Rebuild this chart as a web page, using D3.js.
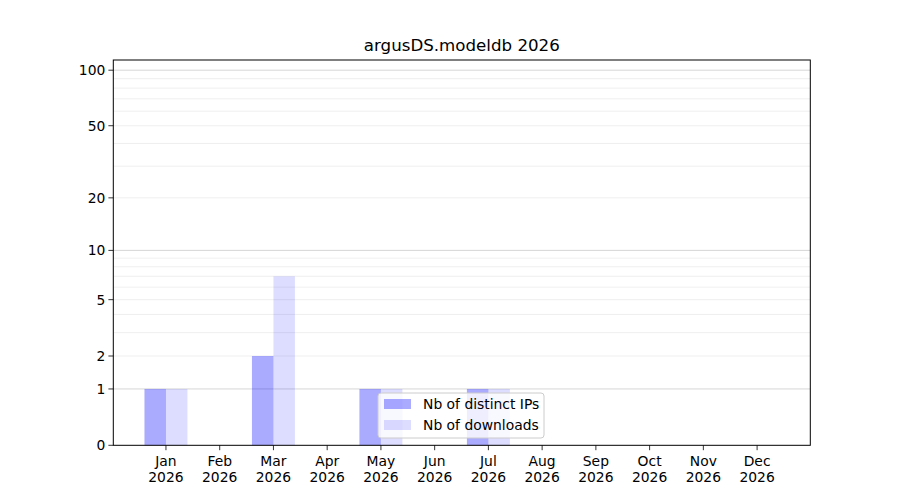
<!DOCTYPE html>
<html>
<head>
<meta charset="utf-8">
<script src="https://cdn.jsdelivr.net/npm/d3@7"></script>
<style>
  body { margin: 0; background: #fff; }
  text { font-family: "DejaVu Sans", sans-serif; fill: #000; }
</style>
</head>
<body>
<svg id="mainsvg" width="900" height="500"></svg>
<script>
let months = ["Jan", "Feb", "Mar", "Apr", "May", "Jun", "Jul", "Aug", "Sep", "Oct", "Nov", "Dec"];
let yearLabel = "2026";
let distinctIPs = [1, 0, 2, 0, 1, 0, 1, 0, 0, 0, 0, 0];
let downloads = [1, 0, 7, 0, 1, 0, 1, 0, 0, 0, 0, 0];
let majorTicks = [0, 1, 2, 5, 10, 20, 50, 100];
let gridMajor = [1, 10, 100];
let gridMinor = [2, 3, 4, 5, 6, 7, 8, 9, 20, 30, 40, 50, 60, 70, 80, 90];
let seriesNames = ["Nb of distinct IPs", "Nb of downloads"];
let chartTitle = "argusDS.modeldb 2026";

let svg = d3.select("#mainsvg");
let axLeft = 113.3, axRight = 810.3, axTop = 60, axBottom = 445.3;
let fs = "13.89px";

let x = d3.scaleLinear().domain([-0.98, 11.99]).range([axLeft, axRight]);
// log10(1 + v) scale
let y = d3.scaleSymlog().constant(1).domain([0, 113.5]).range([axBottom, axTop]);

// grid
let grid = svg.append("g");
grid.selectAll(".minor").data(gridMinor).enter().append("line")
    .attr("x1", axLeft).attr("x2", axRight)
    .attr("y1", d => y(d)).attr("y2", d => y(d))
    .attr("stroke", "#ebebeb").attr("stroke-width", 0.8);
grid.selectAll(".major").data(gridMajor).enter().append("line")
    .attr("x1", axLeft).attr("x2", axRight)
    .attr("y1", d => y(d)).attr("y2", d => y(d))
    .attr("stroke", "#cccccc").attr("stroke-width", 0.8);

// bars
let bw = 0.4;
svg.append("g").selectAll("rect").data(distinctIPs).enter().append("rect")
    .attr("x", (d, i) => x(i - bw)).attr("width", (d, i) => x(i) - x(i - bw))
    .attr("y", d => y(d)).attr("height", d => y(0) - y(d))
    .attr("fill", "#0000ff").attr("fill-opacity", 0.333);
svg.append("g").selectAll("rect").data(downloads).enter().append("rect")
    .attr("x", (d, i) => x(i)).attr("width", (d, i) => x(i + bw) - x(i))
    .attr("y", d => y(d)).attr("height", d => y(0) - y(d))
    .attr("fill", "#0000ff").attr("fill-opacity", 0.133);

// frame
svg.append("rect").attr("x", axLeft).attr("y", axTop)
    .attr("width", axRight - axLeft).attr("height", axBottom - axTop)
    .attr("fill", "none").attr("stroke", "#000").attr("stroke-width", 1);

// y axis
let yAxis = svg.append("g");
yAxis.selectAll("line").data(majorTicks).enter().append("line")
    .attr("x1", axLeft - 4.9).attr("x2", axLeft)
    .attr("y1", d => y(d)).attr("y2", d => y(d))
    .attr("stroke", "#000").attr("stroke-width", 0.8);
yAxis.selectAll("text").data(majorTicks).enter().append("text")
    .attr("x", axLeft - 8).attr("y", d => y(d)).attr("dy", "0.35em")
    .attr("text-anchor", "end").attr("font-size", fs)
    .text(d => d);

// x axis
let xAxis = svg.append("g");
xAxis.selectAll("line").data(months).enter().append("line")
    .attr("x1", (d, i) => x(i)).attr("x2", (d, i) => x(i))
    .attr("y1", axBottom).attr("y2", axBottom + 4.9)
    .attr("stroke", "#000").attr("stroke-width", 0.8);
let xl = xAxis.selectAll("text").data(months).enter().append("text")
    .attr("text-anchor", "middle").attr("font-size", fs);
xl.append("tspan").attr("x", (d, i) => x(i)).attr("y", axBottom + 21).text(d => d);
xl.append("tspan").attr("x", (d, i) => x(i)).attr("y", axBottom + 37).text(yearLabel);

// title
svg.append("text").attr("x", (axLeft + axRight) / 2).attr("y", 51)
    .attr("text-anchor", "middle").attr("font-size", "16.67px").text(chartTitle);

// legend
let lg = svg.append("g").attr("transform", "translate(378,393)");
lg.append("rect").attr("width", 166).attr("height", 45).attr("rx", 3)
    .attr("fill", "#fff").attr("fill-opacity", 0.8)
    .attr("stroke", "#cccccc").attr("stroke-width", 1);
let opac = [0.333, 0.133];
seriesNames.forEach((name, i) => {
    lg.append("rect").attr("x", 6).attr("y", 6 + i * 21)
        .attr("width", 27).attr("height", 10)
        .attr("fill", "#0000ff").attr("fill-opacity", opac[i]);
    lg.append("text").attr("x", 45).attr("y", 16 + i * 21)
        .attr("font-size", fs).text(name);
});
</script>
</body>
</html>
